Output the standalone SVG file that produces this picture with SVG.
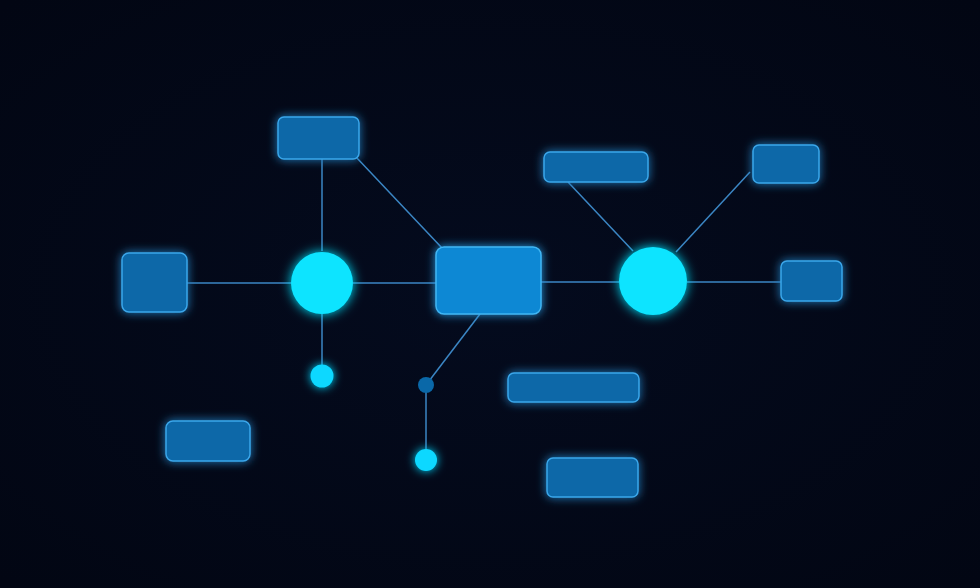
<svg xmlns="http://www.w3.org/2000/svg" width="980" height="588" viewBox="0 0 980 588">
  <defs>
    <filter id="glow" x="-50%" y="-50%" width="200%" height="200%">
      <feGaussianBlur in="SourceGraphic" stdDeviation="5" result="b"/>
      <feMerge><feMergeNode in="b"/><feMergeNode in="SourceGraphic"/></feMerge>
    </filter>
    <filter id="glowc" x="-60%" y="-60%" width="220%" height="220%">
      <feGaussianBlur in="SourceGraphic" stdDeviation="6" result="b"/>
      <feMerge><feMergeNode in="b"/><feMergeNode in="SourceGraphic"/></feMerge>
    </filter>
    <radialGradient id="bg" cx="50%" cy="50%" r="70%">
      <stop offset="0" stop-color="#040b1e"/>
      <stop offset="1" stop-color="#020613"/>
    </radialGradient>
  </defs>
  <style>
    .edge { stroke: #3b86c4; stroke-width: 1.5; fill: none; }
    .box { fill: #0a68a8; stroke: #3aa6ea; stroke-width: 1.5; filter: url(#glow); }
    .box-main { fill: #0b88d4; stroke: #41b6f4; stroke-width: 1.5; filter: url(#glow); }
    .hub { fill: #0ae4ff; filter: url(#glowc); }
    .dot { fill: #0ad8ff; filter: url(#glow); }
    .dot-dark { fill: #0a68a8; }
  </style>
  <rect width="980" height="588" fill="url(#bg)"/>
  <g id="connectors">
    <line class="edge" x1="187" y1="283" x2="291" y2="283"/>
    <line class="edge" x1="322" y1="159" x2="322" y2="251"/>
    <line class="edge" x1="322" y1="314" x2="322" y2="365"/>
    <line class="edge" x1="353" y1="283" x2="436" y2="283"/>
    <line class="edge" x1="356" y1="157" x2="442" y2="248"/>
    <line class="edge" x1="541" y1="282" x2="619" y2="282"/>
    <line class="edge" x1="687" y1="282" x2="781" y2="282"/>
    <line class="edge" x1="568" y1="182" x2="633" y2="251"/>
    <line class="edge" x1="750" y1="172" x2="676" y2="252"/>
    <line class="edge" x1="480" y1="314" x2="426" y2="385"/>
    <line class="edge" x1="426" y1="385" x2="426" y2="460"/>
  </g>
  <g id="n-top"><rect class="box" x="278" y="117" width="81" height="42" rx="6"/></g>
  <g id="n-left"><rect class="box" x="122" y="253" width="65" height="59" rx="7"/></g>
  <g id="n-hub1"><circle class="hub" cx="322" cy="283" r="31"/></g>
  <g id="n-center"><rect class="box-main" x="436" y="247" width="105" height="67" rx="8"/></g>
  <g id="n-topmid"><rect class="box" x="544" y="152" width="104" height="30" rx="6"/></g>
  <g id="n-topright"><rect class="box" x="753" y="145" width="66" height="38" rx="6"/></g>
  <g id="n-hub2"><circle class="hub" cx="653" cy="281" r="34"/></g>
  <g id="n-right"><rect class="box" x="781" y="261" width="61" height="40" rx="6"/></g>
  <g id="n-dot1"><circle class="dot" cx="322" cy="376" r="11.5"/></g>
  <g id="n-dotdark"><circle class="dot-dark" cx="426" cy="385" r="8"/></g>
  <g id="n-dot2"><circle class="dot" cx="426" cy="460" r="11"/></g>
  <g id="n-bl"><rect class="box" x="166" y="421" width="84" height="40" rx="7"/></g>
  <g id="n-mr"><rect class="box" x="508" y="373" width="131" height="29" rx="6"/></g>
  <g id="n-bottom"><rect class="box" x="547" y="458" width="91" height="39" rx="6"/></g>
</svg>
